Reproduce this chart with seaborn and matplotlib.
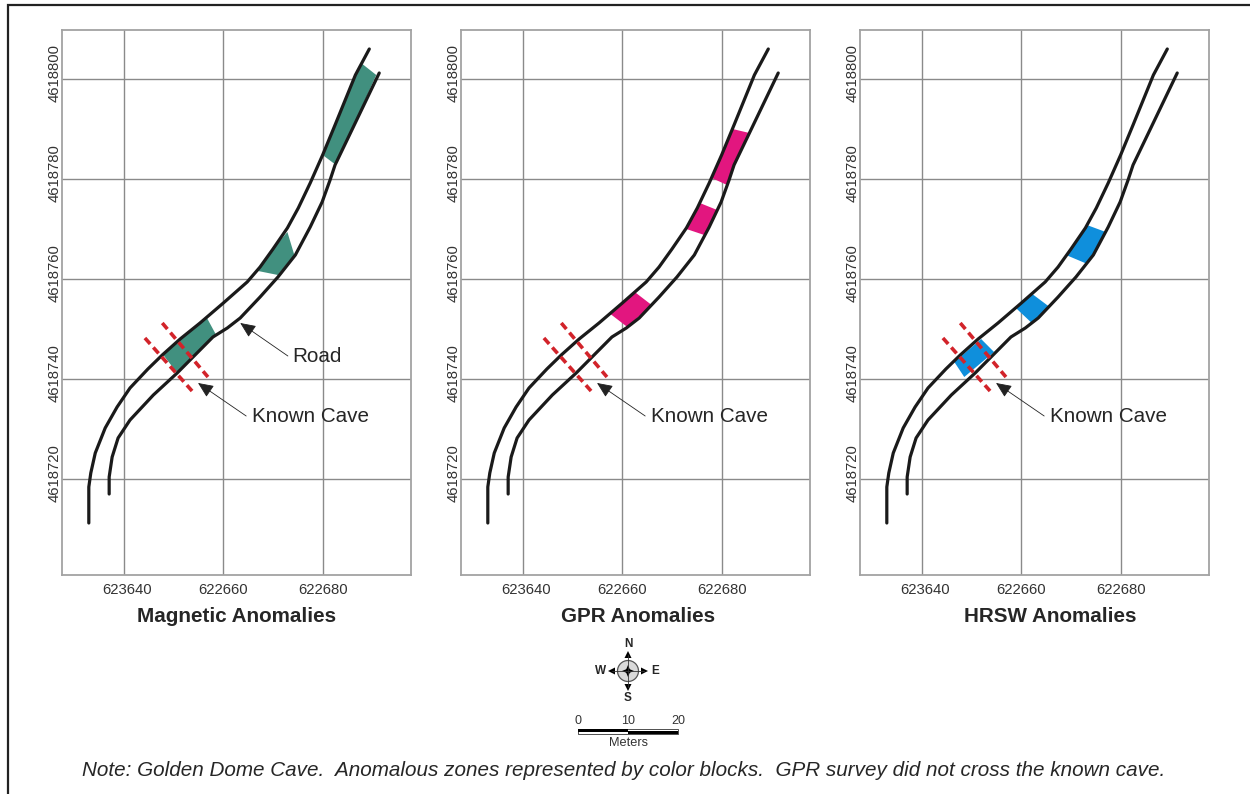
import numpy as np
import pandas as pd
import matplotlib
matplotlib.use("Agg")
import matplotlib.pyplot as plt
from matplotlib.patches import Circle, Rectangle
from matplotlib.transforms import ScaledTranslation
import seaborn as sns

# road edges
left_x = [622689.4, 622686.6, 622682.5, 622680.0, 622677.5, 622675.1, 622672.9, 622670.0, 622667.4, 622664.8, 622660.0,
          622655.3, 622651.3, 622647.7, 622644.8, 622641.2, 622638.6, 622636.2, 622634.2, 622633.3, 622632.9, 622632.9]
left_y = [4618806, 4618800.8, 4618790.8, 4618784.8, 4618779.2, 4618774.2, 4618770.2, 4618766.0, 4618762.4, 4618759.4, 4618755.2,
          4618751.2, 4618748.0, 4618744.8, 4618742.0, 4618738.2, 4618734.4, 4618730.2, 4618725.2, 4618721.2, 4618718.4, 4618711.2]
right_x = [622691.4, 622685.6, 622682.5, 622681.5, 622679.9, 622677.5, 622674.5, 622671.0, 622667.4, 622663.4,
           622660.8, 622657.9, 622650.7, 622645.9, 622641.2, 622638.8, 622637.6, 622637.0, 622637.0]
right_y = [4618801.2, 4618789.2, 4618782.8, 4618779.8, 4618775.4, 4618770.4, 4618764.8, 4618760.4, 4618756.4, 4618752.2,
           4618750.2, 4618748.4, 4618741.2, 4618736.8, 4618731.8, 4618728.2, 4618724.4, 4618720.4, 4618717.0]

# anomaly blocks (corner points)
mag_blocks = [
    ([622688.0, 622690.8, 622685.6, 622682.7, 622680.0, 622682.5, 622686.6],
     [4618803.0, 4618800.8, 4618789.2, 4618782.8, 4618784.8, 4618790.8, 4618800.8]),
    ([622672.9, 622674.3, 622671.0, 622667.0, 622670.0],
     [4618769.4, 4618764.8, 4618760.8, 4618761.6, 4618766.0]),
    ([622656.7, 622658.5, 622650.7, 622647.9, 622651.3],
     [4618752.2, 4618748.9, 4618741.2, 4618744.8, 4618748.0]),
]
gpr_blocks = [
    ([622682.2, 622685.6, 622682.5, 622681.1, 622678.0, 622680.0],
     [4618790.0, 4618789.2, 4618782.8, 4618778.8, 4618780.2, 4618784.8]),
    ([622675.6, 622679.1, 622676.5, 622672.9], [4618775.2, 4618773.8, 4618768.8, 4618770.0]),
    ([622662.5, 622665.9, 622661.0, 622657.6], [4618757.4, 4618754.8, 4618750.4, 4618753.0]),
]
hrsw_blocks = [
    ([622673.2, 622677.0, 622673.3, 622669.0], [4618770.8, 4618769.4, 4618763.0, 4618764.8]),
    ([622662.2, 622665.7, 622662.1, 622658.9], [4618757.0, 4618754.4, 4618751.2, 4618754.2]),
    ([622651.9, 622654.5, 622648.5, 622646.5], [4618748.0, 4618745.4, 4618740.4, 4618743.4]),
]

# cave edges
cave_x = [[622644.2, 622653.7], [622647.7, 622656.9]]
cave_y = [[4618748.2, 4618737.6], [4618751.2, 4618740.4]]

x_ticks = [622640, 622660, 622680]
x_labels = ["623640", "622660", "622680"]
y_ticks = [4618720, 4618740, 4618760, 4618780, 4618800]
y_labels = ["4618720", "4618740", "4618760", "4618780", "4618800"]

titles = ["Magnetic Anomalies", "GPR Anomalies", "HRSW Anomalies"]
block_sets = [mag_blocks, gpr_blocks, hrsw_blocks]
block_colors = ["#41907f", "#e2167f", "#0f8fdc"]
panel_left = [62, 461, 860]
title_x = [0.5, 0.507, 0.546]

note = ("Note: Golden Dome Cave.  Anomalous zones represented by color blocks.  "
        "GPR survey did not cross the known cave.")

sns.set_theme(style="white")
plt.rcParams["font.family"] = ["Liberation Sans", "DejaVu Sans"]

W, H = 1250, 794
fig = plt.figure(figsize=(W / 100, H / 100), dpi=100, facecolor="white")
TXT = "#262626"
arrow_style = dict(arrowstyle="-|>,head_length=0.95,head_width=0.42", color="#222222", lw=0.6,
                   mutation_scale=10, shrinkA=0, shrinkB=0)

road_left = pd.DataFrame({"x": left_x, "y": left_y})
road_right = pd.DataFrame({"x": right_x, "y": right_y})

for i in range(3):
    ax = fig.add_axes([panel_left[i] / W, 1 - 575 / H, 349 / W, 545 / H])
    ax.set_xlim(622627.5, 622697.8)
    ax.set_ylim(4618700.8, 4618809.8)

    ax.grid(True, color="#8a8a8a", lw=1.0, zorder=0)
    ax.set_axisbelow(True)
    for s in ax.spines.values():
        s.set_color("#a3a3a3")
        s.set_linewidth(1.3)

    for bx, by in block_sets[i]:
        ax.fill(bx, by, color=block_colors[i], lw=0, zorder=2)

    # both road edges
    for df in (road_left, road_right):
        sns.lineplot(data=df, x="x", y="y", sort=False, estimator=None, color="#1a1a1a",
                     lw=2.3, ax=ax, zorder=3)

    for cx, cy in zip(cave_x, cave_y):
        ax.plot(cx, cy, color="#d2232a", lw=2.6, dashes=(2.2, 1.3), zorder=4)

    ax.set_xticks(x_ticks, x_labels)
    ax.set_yticks(y_ticks, y_labels)
    ax.set_xlabel("")
    ax.set_ylabel("")
    ax.tick_params(length=0, labelsize=10.7, labelcolor="#333333")
    ax.tick_params(axis="x", pad=6)
    ax.tick_params(axis="y", pad=0)
    # labels sit a little above their grid lines in the reference
    shift = ScaledTranslation(0, 6 / 100, fig.dpi_scale_trans)
    for t in ax.get_yticklabels():
        t.set_rotation(90)
        t.set_va("center")
        t.set_transform(t.get_transform() + shift)
    first = ax.get_xticklabels()[0]
    first.set_transform(first.get_transform() + ScaledTranslation(3 / 100, 0, fig.dpi_scale_trans))

    ax.set_title(titles[i], x=title_x[i], y=0, pad=-34, fontsize=14.9, fontweight="bold", color=TXT)

    ax.annotate("", xy=(622654.9, 4618739.2), xytext=(622664.6, 4618732.6), arrowprops=arrow_style, zorder=5)
    ax.text(622665.7, 4618732.6, "Known Cave", fontsize=14.9, color=TXT, va="center", ha="left", zorder=5)
    if i == 0:
        ax.annotate("", xy=(622663.4, 4618751.2), xytext=(622673.0, 4618744.6), arrowprops=arrow_style, zorder=5)
        ax.text(622673.9, 4618744.4, "Road", fontsize=14.9, color=TXT, va="center", ha="left", zorder=5)

# overlay in pixels for compass, scale bar, frame
ov = fig.add_axes([0, 0, 1, 1], zorder=10)
ov.set_xlim(0, W)
ov.set_ylim(H, 0)
ov.axis("off")
ov.patch.set_alpha(0)

ov.plot([8, 8, W], [H, 4.5, 4.5], color="#222222", lw=1.6, solid_joinstyle="miter")

# compass
ov.add_patch(Circle((628, 671), 10.5, fc="#d9d9d9", ec="#555555", lw=0.9))
ov.plot([628, 628], [655, 687], color="#333333", lw=0.6)
ov.plot([612, 644], [671, 671], color="#333333", lw=0.6)
ov.fill([628, 630.5, 628, 625.5], [665, 671, 677, 671], color="black", lw=0)
ov.fill([622, 628, 634, 628], [671, 668.5, 671, 673.5], color="black", lw=0)
ov.fill([628, 624.5, 631.5], [651, 658, 658], color="black", lw=0)
ov.fill([628, 624.5, 631.5], [691, 684, 684], color="black", lw=0)
ov.fill([608, 615, 615], [671, 667.5, 674.5], color="black", lw=0)
ov.fill([648, 641, 641], [671, 667.5, 674.5], color="black", lw=0)
for s, x, y in [("N", 628, 644), ("S", 628, 698), ("W", 601, 671), ("E", 655, 671)]:
    ov.text(x, y, s, fontsize=8.5, fontweight="bold", ha="center", va="center", color=TXT)

# scale bar
ov.add_patch(Rectangle((578, 728.5), 100, 5.5, fc="white", ec="#333333", lw=0.6))
ov.add_patch(Rectangle((578, 728.5), 50, 3.5, fc="black", lw=0))
ov.add_patch(Rectangle((628, 730.5), 50, 3.5, fc="black", lw=0))
for s, x in [("0", 578), ("10", 628), ("20", 678)]:
    ov.text(x, 721, s, fontsize=9, ha="center", va="center", color="#333333")
ov.text(628, 743, "Meters", fontsize=9.2, ha="center", va="center", color="#333333")

ov.text(624, 770, note, fontsize=14.9, style="italic", ha="center", va="center", color=TXT)

fig.savefig("out.png", dpi=100)
